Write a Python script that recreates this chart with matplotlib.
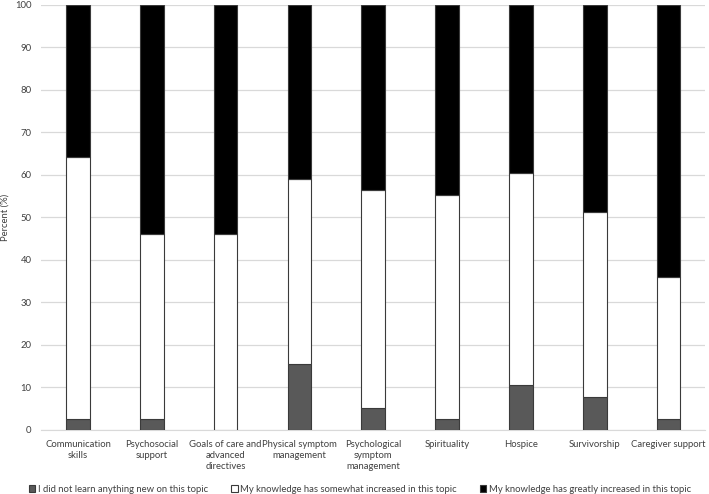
import matplotlib.pyplot as plt
import numpy as np

# Topics and response percentages (stacked to 100)
topics = ['Communication\nskills', 'Psychosocial\nsupport', 'Goals of care and\nadvanced\ndirectives',
          'Physical symptom\nmanagement', 'Psychological\nsymptom\nmanagement', 'Spirituality',
          'Hospice', 'Survivorship', 'Caregiver support']
not_new = [2.6, 2.6, 0.0, 15.4, 5.1, 2.6, 10.5, 7.7, 2.6]
somewhat = [61.5, 43.6, 46.2, 43.6, 51.3, 52.7, 50.0, 43.6, 33.3]
greatly = [35.9, 53.8, 53.8, 41.0, 43.6, 44.7, 39.5, 48.7, 64.1]

labels = ['I did not learn anything new on this topic',
          'My knowledge has somewhat increased in this topic',
          'My knowledge has greatly increased in this topic']

plt.rcParams['font.family'] = ['Lato', 'DejaVu Sans']
fs = 6.8

fig, ax = plt.subplots(figsize=(7.09, 4.94), dpi=100)
fig.subplots_adjust(left=0.058, right=0.995, top=0.99, bottom=0.13)

x = np.arange(len(topics))
w = 0.32
edge = '#3a3a3a'
ax.bar(x, not_new, w, color='#595959', edgecolor=edge, linewidth=0.8, label=labels[0], zorder=3)
ax.bar(x, somewhat, w, bottom=not_new, color='white', edgecolor=edge, linewidth=0.8, label=labels[1], zorder=3)
bottom2 = np.array(not_new) + np.array(somewhat)
ax.bar(x, greatly, w, bottom=bottom2, color='black', edgecolor=edge, linewidth=0.8, label=labels[2], zorder=3)

ax.set_ylim(0, 100)
ax.set_xlim(-0.5, len(topics) - 0.5)
ax.set_yticks(np.arange(0, 101, 10))
ax.set_xticks(x)
ax.set_xticklabels(topics, fontsize=fs, color='#404040', linespacing=1.35)
ax.tick_params(axis='y', labelsize=fs, colors='#404040', length=0, pad=7)
ax.tick_params(axis='x', length=0, pad=7)
ax.set_ylabel('Percent (%)', fontsize=fs, color='#404040', labelpad=4)

ax.grid(axis='y', color='#d9d9d9', linewidth=0.9, zorder=0)
for s in ['top', 'right', 'left']:
    ax.spines[s].set_visible(False)
ax.spines['bottom'].set_color('#d9d9d9')

ax.legend(loc='upper center', bbox_to_anchor=(0.48, -0.11), ncol=3, frameon=False,
          fontsize=fs, handlelength=0.7, handleheight=0.7, handletextpad=0.3,
          columnspacing=2.4, labelcolor='#404040')

fig.savefig('out.png', dpi=100)
